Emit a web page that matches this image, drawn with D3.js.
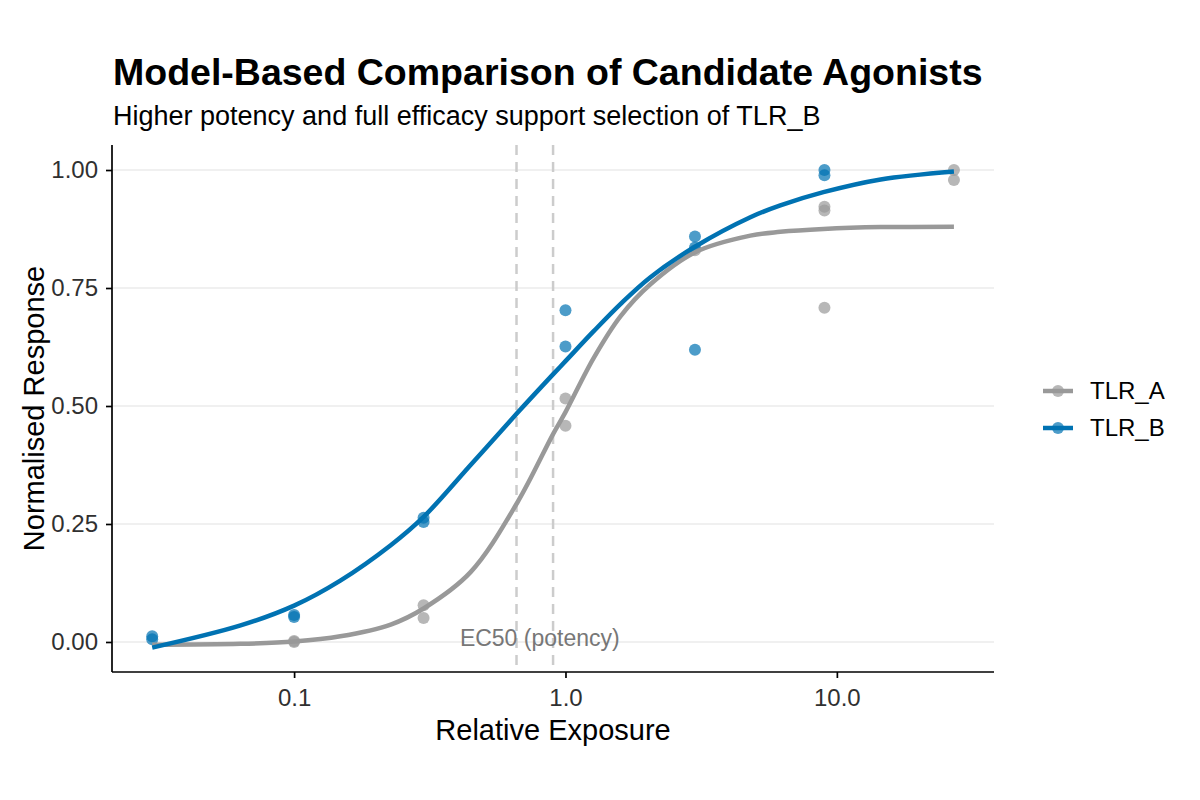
<!DOCTYPE html>
<html>
<head>
<meta charset="utf-8">
<script src="https://cdn.jsdelivr.net/npm/d3@7"></script>
<style>
  html, body { margin: 0; padding: 0; background: #ffffff; }
  svg { display: block; font-family: "Liberation Sans", Arial, Helvetica, sans-serif; }
</style>
</head>
<body>
<svg id="chart" width="1200" height="800"></svg>
<script>
// ---------------- data ----------------
const seriesNames = ["TLR_A", "TLR_B"];
const seriesColors = ["#999999", "#0072B2"];

// observed responses
const tlrA_obsDose = [0.1, 0.1, 0.3, 0.3, 1, 1, 3, 9, 9, 9, 27, 27];
const tlrA_obsResp = [0.000, 0.002, 0.078, 0.051, 0.516, 0.458, 0.830, 0.922, 0.914, 0.708, 1.000, 0.979];
const tlrB_obsDose = [0.03, 0.03, 0.1, 0.1, 0.3, 0.3, 1, 1, 3, 3, 3, 9, 9];
const tlrB_obsResp = [0.012, 0.006, 0.057, 0.053, 0.263, 0.254, 0.703, 0.626, 0.859, 0.836, 0.619, 1.000, 0.989];

// fitted model curves
const fitDose  = [0.03, 0.0635, 0.1, 0.148, 0.227, 0.3, 0.447, 0.664, 0.903, 1.0, 1.268, 1.594, 2.056, 3.01, 4.8, 6.19, 8.92, 14.5, 27];
const tlrA_fit = [-0.006, -0.004, 0.001, 0.012, 0.037, 0.071, 0.148, 0.295, 0.442, 0.487, 0.601, 0.690, 0.758, 0.826, 0.861, 0.869, 0.875, 0.879, 0.880];
const tlrB_fit = [-0.012, 0.035, 0.077, 0.130, 0.205, 0.265, 0.375, 0.485, 0.568, 0.595, 0.658, 0.716, 0.773, 0.838, 0.900, 0.925, 0.953, 0.980, 0.997];

// EC50 (potency) reference lines
const ec50Values = [0.66, 0.90];
const ec50Label = "EC50 (potency)";

// axes
const xTickValues = [0.1, 1, 10];
const xTickLabels = ["0.1", "1.0", "10.0"];
const yTickValues = [0, 0.25, 0.5, 0.75, 1];
const yTickLabels = ["0.00", "0.25", "0.50", "0.75", "1.00"];

const titleText = "Model-Based Comparison of Candidate Agonists";
const subtitleText = "Higher potency and full efficacy support selection of TLR_B";
const xTitle = "Relative Exposure";
const yTitle = "Normalised Response";

// ---------------- layout ----------------
const svg = d3.select("#chart");
const panel = { left: 112, right: 994, top: 145, bottom: 672 };

svg.append("rect").attr("width", 1200).attr("height", 800).attr("fill", "#ffffff");

const x = d3.scaleLog()
  .domain([Math.pow(10, -1.671), Math.pow(10, 1.579)])
  .range([panel.left, panel.right]);
const y = d3.scaleLinear()
  .domain([-0.0636, 1.053])
  .range([panel.bottom, panel.top]);

// gridlines (major y)
svg.append("g").selectAll("line")
  .data(yTickValues)
  .join("line")
  .attr("x1", panel.left).attr("x2", panel.right)
  .attr("y1", d => y(d)).attr("y2", d => y(d))
  .attr("stroke", "#ebebeb").attr("stroke-width", 1.5);

// EC50 dashed lines
svg.append("g").selectAll("line")
  .data(ec50Values)
  .join("line")
  .attr("x1", d => x(d)).attr("x2", d => x(d))
  .attr("y1", panel.top).attr("y2", panel.bottom)
  .attr("stroke", "#cccccc").attr("stroke-width", 2.5)
  .attr("stroke-dasharray", "10,7");

// points
const obs = [
  tlrA_obsDose.map((d, i) => ({ dose: d, resp: tlrA_obsResp[i] })),
  tlrB_obsDose.map((d, i) => ({ dose: d, resp: tlrB_obsResp[i] }))
];
const fits = [
  fitDose.map((d, i) => ({ dose: d, resp: tlrA_fit[i] })),
  fitDose.map((d, i) => ({ dose: d, resp: tlrB_fit[i] }))
];

obs.forEach((pts, s) => {
  svg.append("g").selectAll("circle")
    .data(pts)
    .join("circle")
    .attr("cx", d => x(d.dose))
    .attr("cy", d => y(d.resp))
    .attr("r", 6)
    .attr("fill", seriesColors[s])
    .attr("fill-opacity", 0.7);
});

const line = d3.line()
  .x(d => x(d.dose))
  .y(d => y(d.resp))
  .curve(d3.curveCatmullRom.alpha(0.5));

fits.forEach((pts, s) => {
  svg.append("path")
    .datum(pts)
    .attr("d", line)
    .attr("fill", "none")
    .attr("stroke", seriesColors[s])
    .attr("stroke-width", 4.5)
    .attr("stroke-linecap", "butt");
});

// EC50 label
svg.append("text")
  .attr("x", x(Math.sqrt(ec50Values[0] * ec50Values[1])) + 5)
  .attr("y", y(0.008))
  .attr("dy", "0.35em")
  .attr("text-anchor", "middle")
  .attr("font-size", 23)
  .attr("fill", "#777777")
  .text(ec50Label);

// axes
const yAxis = d3.axisLeft(y)
  .tickValues(yTickValues)
  .tickFormat((d, i) => yTickLabels[i])
  .tickSize(6).tickPadding(8).tickSizeOuter(0);
const gy = svg.append("g").attr("transform", `translate(${panel.left},0)`).call(yAxis);

const xAxis = d3.axisBottom(x)
  .tickValues(xTickValues)
  .tickFormat((d, i) => xTickLabels[i])
  .tickSize(6).tickPadding(11).tickSizeOuter(0);
const gx = svg.append("g").attr("transform", `translate(0,${panel.bottom})`).call(xAxis);

[gx, gy].forEach(g => {
  g.select(".domain").attr("stroke", "#000").attr("stroke-width", 1.7);
  g.selectAll(".tick line").attr("stroke", "#000").attr("stroke-width", 1.7);
  g.selectAll(".tick text").attr("font-size", 24).attr("fill", "#303030")
    .attr("font-family", "'Liberation Sans', Arial, sans-serif");
});
gy.select(".domain").attr("d", `M0,${panel.top}V${panel.bottom}`);
gx.select(".domain").attr("d", `M${panel.left},0H${panel.right}`);

// axis titles
svg.append("text")
  .attr("x", (panel.left + panel.right) / 2)
  .attr("y", 740)
  .attr("text-anchor", "middle")
  .attr("font-size", 29)
  .attr("fill", "#000")
  .text(xTitle);

svg.append("text")
  .attr("transform", `translate(44,${(panel.top + panel.bottom) / 2}) rotate(-90)`)
  .attr("text-anchor", "middle")
  .attr("font-size", 29)
  .attr("fill", "#000")
  .text(yTitle);

// title & subtitle
svg.append("text")
  .attr("x", 113).attr("y", 85)
  .attr("font-size", 37.5).attr("font-weight", "bold")
  .attr("fill", "#000")
  .text(titleText);

svg.append("text")
  .attr("x", 113).attr("y", 125)
  .attr("font-size", 27)
  .attr("fill", "#000")
  .text(subtitleText);

// legend
const legend = svg.append("g");
const legendY = [391, 428];
seriesNames.forEach((name, i) => {
  const g = legend.append("g").attr("transform", `translate(0,${legendY[i]})`);
  g.append("line")
    .attr("x1", 1043).attr("x2", 1073)
    .attr("y1", 0).attr("y2", 0)
    .attr("stroke", seriesColors[i]).attr("stroke-width", 4.5);
  g.append("circle")
    .attr("cx", 1058).attr("cy", 0).attr("r", 6)
    .attr("fill", seriesColors[i]).attr("fill-opacity", 0.7);
  g.append("text")
    .attr("x", 1090).attr("y", 0).attr("dy", "0.35em")
    .attr("font-size", 24).attr("fill", "#000")
    .text(name);
});
</script>
</body>
</html>
